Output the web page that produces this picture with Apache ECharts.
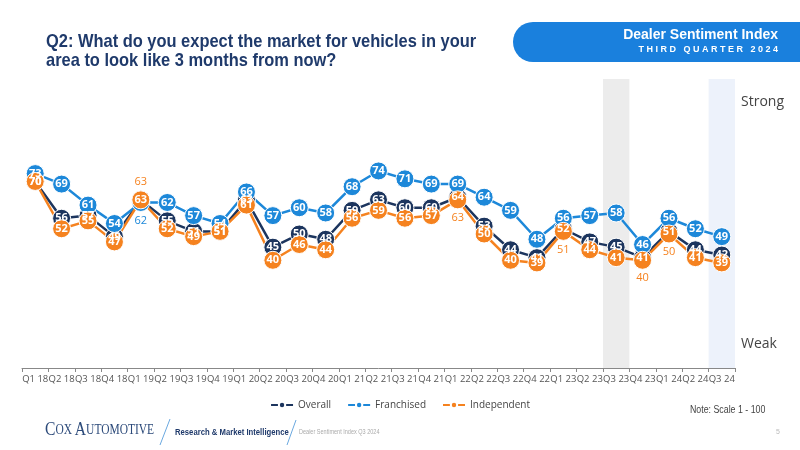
<!DOCTYPE html>
<html>
<head>
<meta charset="utf-8">
<script src="https://cdn.jsdelivr.net/npm/echarts@6/dist/echarts.min.js"></script>
<style>
  html, body { margin: 0; padding: 0; background: #fff; }
  #chart { width: 800px; height: 450px; }
</style>
</head>
<body>
<div id="chart"></div>
<script>
// quarters on the x axis
var quarters = ['Q1 18','Q2 18','Q3 18','Q4 18','Q1 19','Q2 19','Q3 19','Q4 19','Q1 20','Q2 20','Q3 20','Q4 20',
  'Q1 21','Q2 21','Q3 21','Q4 21','Q1 22','Q2 22','Q3 22','Q4 22','Q1 23','Q2 23','Q3 23','Q4 23','Q1 24','Q2 24','Q3 24'];
var overall     = [70,56,57,49,63,55,51,51,63,45,50,48,59,63,60,60,64,53,44,41,52,47,45,41,51,44,42];
var franchised  = [73,69,61,54,62,62,57,54,66,57,60,58,68,74,71,69,69,64,59,48,56,57,58,46,56,52,49];
var independent = [70,52,55,47,63,52,49,51,61,40,46,44,56,59,56,57,63,50,40,39,51,44,41,40,50,41,39];
// shaded quarters
var highlightQuarters = ['Q3 23','Q3 24'];

var colors = { Overall: '#1c355e', Franchised: '#1d88d9', Independent: '#f5821f' };
// labels that sit outside the marker (overlapping points)
var outsideLabels = {
  Franchised: { 4: 'bottom' },
  Independent: { 4: 'top', 16: 'bottom', 20: 'bottom', 23: 'bottom', 24: 'bottom' }
};

var chart = echarts.init(document.getElementById('chart'));

function makeSeries(name, values) {
  var out = outsideLabels[name] || {};
  return {
    name: name,
    type: 'line',
    data: values.map(function (v, i) {
      if (!out[i]) return v;
      return { value: v, label: { position: out[i], color: colors[name], fontWeight: 'normal', distance: 3 } };
    }),
    symbol: 'circle',
    symbolSize: 18,
    lineStyle: { color: colors[name], width: 2.5 },
    itemStyle: { color: colors[name], borderColor: '#fff', borderWidth: 1 },
    label: {
      show: true, position: 'inside', color: '#fff',
      fontSize: 11, fontWeight: 'bold', fontFamily: 'Open Sans'
    },
    emphasis: { disabled: true },
    z: 3
  };
}

// narrow text: regular font squeezed horizontally
function narrowText(x, y, text, font, fill, sx) {
  return {
    type: 'text', x: x, y: y, scaleX: sx,
    style: { text: text, font: font, fill: fill, verticalAlign: 'top' }
  };
}

var option = {
  animation: false,
  color: [colors.Overall, colors.Franchised, colors.Independent],
  grid: { left: 22, right: 65, top: 79, bottom: 82 },
  legend: {
    data: ['Overall', 'Franchised', 'Independent'],
    bottom: 35, left: 'center',
    itemWidth: 22, itemHeight: 8, itemGap: 16,
    textStyle: { color: '#444', fontSize: 10, fontFamily: 'Open Sans' }
  },
  xAxis: {
    type: 'category',
    data: quarters,
    boundaryGap: true,
    axisLine: { onZero: false, lineStyle: { color: '#888' } },
    axisTick: { show: true, length: 4, lineStyle: { color: '#888' } },
    axisLabel: { interval: 0, color: '#555', fontSize: 9.5, fontFamily: 'Open Sans', margin: 6 }
  },
  yAxis: [
    { type: 'value', min: -1, max: 109, show: false, splitLine: { show: false } },
    { type: 'value', min: 0, max: 100, show: false, splitLine: { show: false } }
  ],
  series: [
    {
      name: 'highlight',
      type: 'bar',
      yAxisIndex: 1,
      silent: true,
      barWidth: '100%',
      barGap: '-100%',
      data: quarters.map(function (q) {
        var k = highlightQuarters.indexOf(q);
        if (k < 0) return '-';
        return { value: 100, itemStyle: { color: k === 0 ? '#ececec' : '#edf2fb' } };
      }),
      z: 1
    },
    makeSeries('Overall', overall),
    makeSeries('Franchised', franchised),
    makeSeries('Independent', independent)
  ],
  graphic: [
    {
      type: 'text', x: 46, y: 32, scaleX: 0.865,
      style: {
        text: 'Q2: What do you expect the market for vehicles in your\narea to look like 3 months from now?',
        fill: '#1f3a6b', font: 'bold 19px "Liberation Sans", sans-serif', lineHeight: 19, verticalAlign: 'top'
      }
    },
    {
      type: 'rect', shape: { x: 513, y: 22, width: 300, height: 40, r: [20, 0, 0, 20] },
      style: { fill: '#1a80dd' }
    },
    {
      type: 'text', right: 22, top: 28,
      style: { text: 'Dealer Sentiment Index', fill: '#fff', font: 'bold 14px "Liberation Sans", sans-serif' }
    },
    {
      type: 'text', right: 22, top: 45,
      style: { text: 'T H I R D   Q U A R T E R   2 0 2 4', fill: '#fff', font: 'bold 9px "Liberation Sans", sans-serif' }
    },
    { type: 'text', left: 741, top: 95, style: { text: 'Strong', fill: '#444', font: '14px "Open Sans", sans-serif' } },
    { type: 'text', left: 741, top: 337, style: { text: 'Weak', fill: '#444', font: '14px "Open Sans", sans-serif' } },
    narrowText(690, 405, 'Note: Scale 1 - 100', '10px "Liberation Sans", sans-serif', '#444', 0.88),
    {
      type: 'text', x: 45, y: 421, scaleX: 0.82,
      style: {
        text: '{b|C}{s|OX }{b|A}{s|UTOMOTIVE}',
        verticalAlign: 'top',
        rich: {
          b: { fill: '#2c4a7a', font: '19px "Liberation Serif", serif' },
          s: { fill: '#2c4a7a', font: '14px "Liberation Serif", serif' }
        }
      }
    },
    { type: 'line', shape: { x1: 160, y1: 445, x2: 170, y2: 419 }, style: { stroke: '#6aa8df', lineWidth: 1 } },
    narrowText(175, 427, 'Research & Market Intelligence', 'bold 9.5px "Liberation Sans", sans-serif', '#1f3a6b', 0.81),
    { type: 'line', shape: { x1: 287, y1: 445, x2: 296, y2: 420 }, style: { stroke: '#6aa8df', lineWidth: 1 } },
    narrowText(299, 429, 'Dealer Sentiment Index Q3 2024', '6.5px "Liberation Sans", sans-serif', '#aaa', 0.85),
    { type: 'text', left: 776, top: 429, style: { text: '5', fill: '#bbb', font: '7px sans-serif' } }
  ]
};

chart.setOption(option);
</script>
</body>
</html>
